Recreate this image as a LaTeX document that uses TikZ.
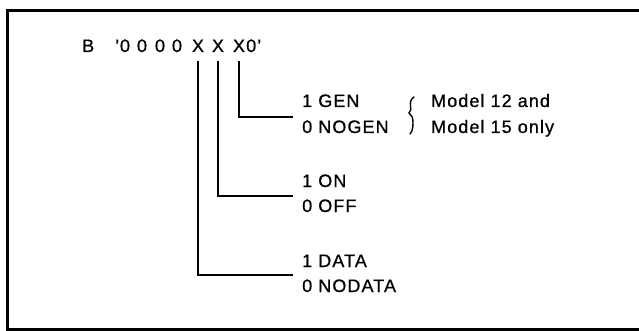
\documentclass[tikz,border=0pt]{standalone}
\usepackage{fontspec}
\setmainfont[LetterSpace=6,FakeBold=0.8]{Liberation Sans}
\begin{document}
\begin{tikzpicture}[x=1pt,y=-1pt,
  lbl/.style={anchor=base west, inner sep=0pt, font=\fontsize{18}{25.5}\selectfont},
  bitc/.style={anchor=base, inner sep=0pt, font=\fontsize{18}{25.5}\selectfont},
  wire/.style={line width=2.3pt},
  frame/.style={line width=3.5pt},
  bracepath/.style={line width=1.4pt, line cap=round}]
\useasboundingbox (0,0) rectangle (639,331);
\draw[frame] (650,10.5) -- (7.5,10.5) -- (7.5,329.5) -- (650,329.5);
% bit string
\node[lbl] (b) at (82,52) {B};
\node[lbl] (q) at (115,52) {’};
\foreach \i/\x in {1/125,2/142,3/160,4/177}
  \node[bitc] (z\i) at (\x,52) {0};
\node[bitc] (x1) at (198,52) {X};
\node[bitc] (x2) at (218,52) {X};
\node[bitc] (x3) at (239,52) {X};
\node[lbl] (tail) at (246,52) {0’};
% wire ends
\coordinate (e3) at (293,117);
\coordinate (e2) at (293,196);
\coordinate (e1) at (293,275);
\draw[wire] ([yshift=-9pt]x3.south) |- (e3);
\draw[wire] ([yshift=-9pt]x2.south) |- (e2);
\draw[wire] ([yshift=-9pt]x1.south) |- (e1);
% labels
\node[lbl] (gen) at (302,107) {1 GEN};
\node[lbl] (nogen) at (302,133) {0 NOGEN};
\node[lbl] (on) at (302,187) {1 ON};
\node[lbl] (off) at (302,212) {0 OFF};
\node[lbl] (data) at (302,267) {1 DATA};
\node[lbl] (nodata) at (302,292) {0 NODATA};
\node[lbl] (m12) at (431,107) {Model 12 and};
\node[lbl] (m15) at (431,133) {Model 15 only};
% brace
\draw[bracepath] (414,97) .. controls (411,99) and (410,102) .. (410.5,106)
  .. controls (411,109) and (411,111) .. (409,113)
  .. controls (412,115) and (413,118) .. (413,123)
  .. controls (413,128) and (412,132) .. (410,134);
\end{tikzpicture}
\end{document}
